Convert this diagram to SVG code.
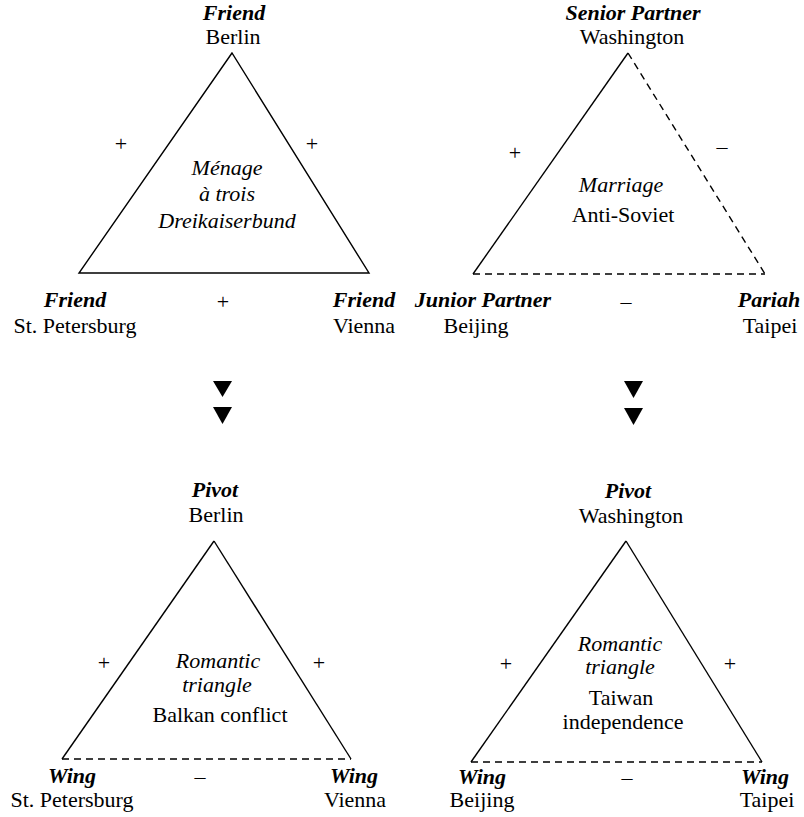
<svg xmlns="http://www.w3.org/2000/svg" width="804" height="817" viewBox="0 0 804 817">
<style>
text{font-family:'Liberation Serif','Times New Roman','DejaVu Serif',serif;font-size:22px;fill:#000;text-anchor:middle}
.r{font-weight:bold;font-style:italic}
.i{font-style:italic}
.solid{stroke:#000;stroke-width:1.4;fill:none}
.dash{stroke:#000;stroke-width:1.4;fill:none;stroke-dasharray:7 5}
.arr{fill:#000}
</style>
<rect width="804" height="817" fill="#fff"/>
<g id="connectors">
  <path class="solid" d="M232,53 L79,273 L369,273 Z"/>
  <line class="solid" x1="628" y1="53" x2="473" y2="274"/>
  <line class="dash" x1="628" y1="53" x2="765" y2="274"/>
  <line class="dash" x1="473" y1="274" x2="765" y2="274"/>
  <line class="solid" x1="214" y1="541" x2="62" y2="759"/>
  <line class="solid" x1="214" y1="541" x2="351" y2="759"/>
  <line class="dash" x1="62" y1="759" x2="351" y2="759"/>
  <line class="solid" x1="626" y1="541" x2="471" y2="762"/>
  <line class="solid" x1="626" y1="541" x2="762" y2="762"/>
  <line class="dash" x1="471" y1="762" x2="762" y2="762"/>
  <polygon class="arr" points="213,381 232,381 222.5,397"/>
  <polygon class="arr" points="213,407 232,407 222.5,424"/>
  <polygon class="arr" points="624,381 643,381 633.5,398"/>
  <polygon class="arr" points="624,408 643,408 633.5,425"/>
</g>
<g font-family="Liberation Serif, DejaVu Serif, serif">
<g id="tl-labels">
  <text x="121" y="151">+</text>
  <text x="312" y="151">+</text>
  <text x="223" y="309">+</text>
  <text class="i" x="227" y="175">Ménage</text>
  <text class="i" x="227" y="201">à trois</text>
  <text class="i" x="227" y="228">Dreikaiserbund</text>
</g>
<g id="berlin-top"><text class="r" x="234" y="20">Friend</text><text x="233" y="44">Berlin</text></g>
<g id="stpetersburg-top"><text class="r" x="75" y="307">Friend</text><text x="75" y="333">St. Petersburg</text></g>
<g id="vienna-top"><text class="r" x="364" y="307">Friend</text><text x="364" y="333">Vienna</text></g>
<g id="tr-labels">
  <text x="515" y="160">+</text>
  <text x="722" y="154">–</text>
  <text x="626" y="309">–</text>
  <text class="i" x="621" y="192">Marriage</text>
  <text x="623" y="222">Anti-Soviet</text>
</g>
<g id="washington-top"><text class="r" x="633" y="20">Senior Partner</text><text x="632" y="44">Washington</text></g>
<g id="beijing-top"><text class="r" x="483" y="307">Junior Partner</text><text x="476" y="333">Beijing</text></g>
<g id="taipei-top"><text class="r" x="769" y="307">Pariah</text><text x="770" y="333">Taipei</text></g>
<g id="bl-labels">
  <text x="104" y="670">+</text>
  <text x="319" y="670">+</text>
  <text x="200" y="784">–</text>
  <text class="i" x="218" y="668">Romantic</text>
  <text class="i" x="217" y="692">triangle</text>
  <text x="220" y="722">Balkan conflict</text>
</g>
<g id="berlin-bottom"><text class="r" x="215" y="497">Pivot</text><text x="216" y="522">Berlin</text></g>
<g id="stpetersburg-bottom"><text class="r" x="72" y="783">Wing</text><text x="72" y="807">St. Petersburg</text></g>
<g id="vienna-bottom"><text class="r" x="354" y="783">Wing</text><text x="355" y="807">Vienna</text></g>
<g id="br-labels">
  <text x="506" y="671">+</text>
  <text x="730" y="671">+</text>
  <text x="627" y="785">–</text>
  <text class="i" x="620" y="651">Romantic</text>
  <text class="i" x="620" y="674">triangle</text>
  <text x="621" y="705">Taiwan</text>
  <text x="623" y="729">independence</text>
</g>
<g id="washington-bottom"><text class="r" x="628" y="498">Pivot</text><text x="631" y="523">Washington</text></g>
<g id="beijing-bottom"><text class="r" x="482" y="784">Wing</text><text x="482" y="807">Beijing</text></g>
<g id="taipei-bottom"><text class="r" x="765" y="784">Wing</text><text x="767" y="807">Taipei</text></g>
</g>
</svg>
